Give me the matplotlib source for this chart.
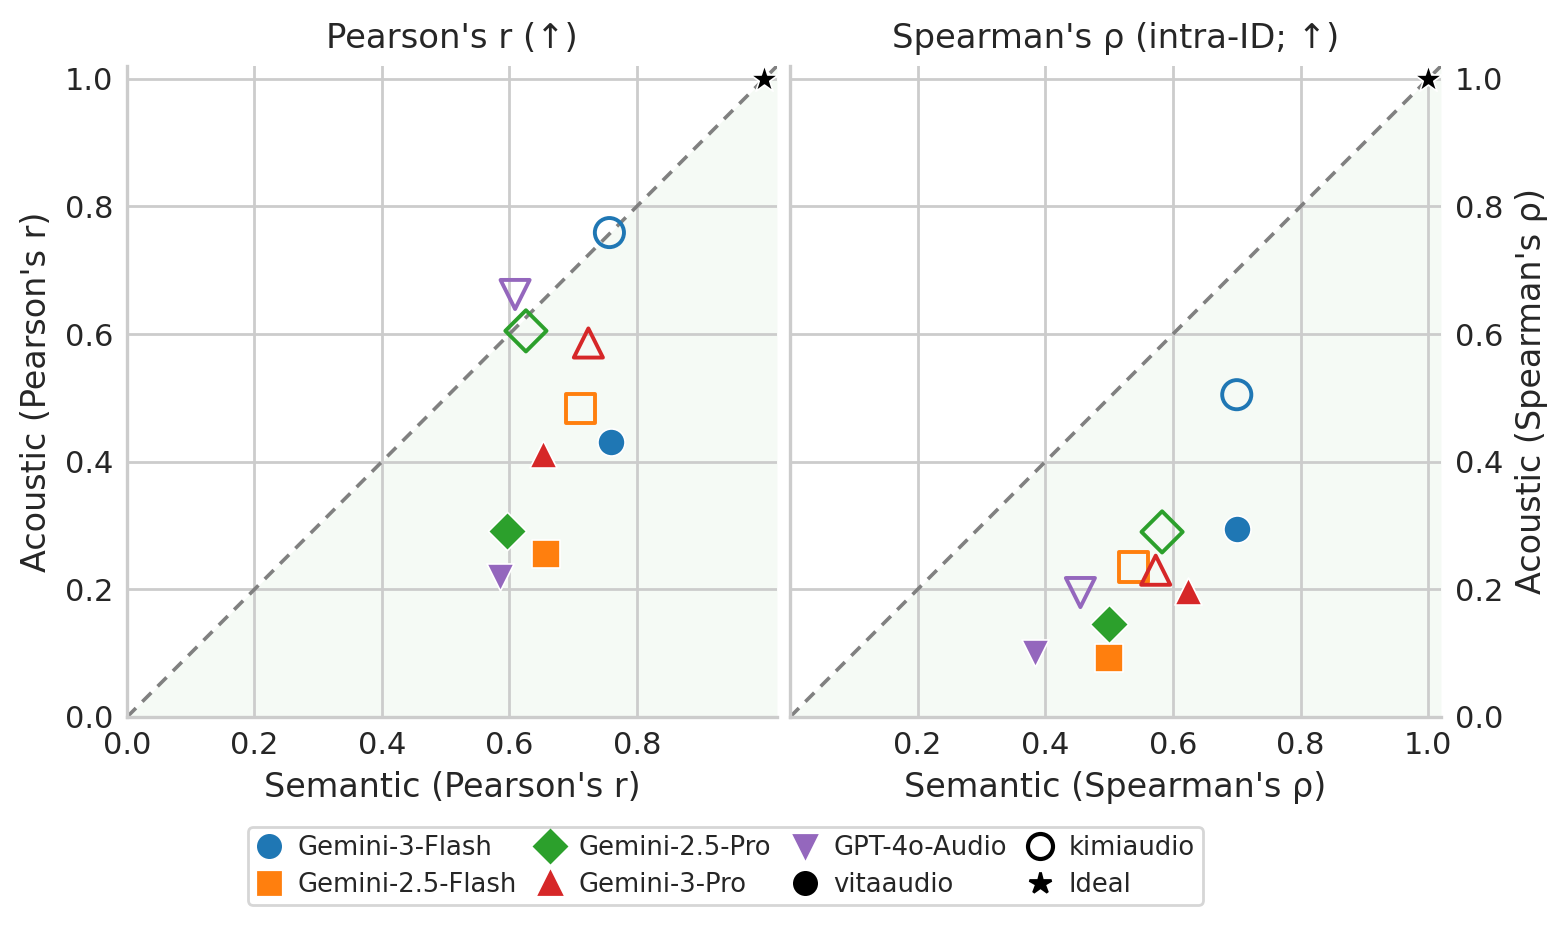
import matplotlib
matplotlib.use("Agg")
import matplotlib.pyplot as plt
from matplotlib.lines import Line2D
import numpy as np

models = ["Gemini-3-Flash", "Gemini-2.5-Flash", "Gemini-2.5-Pro", "Gemini-3-Pro", "GPT-4o-Audio"]
colors = ["#1f77b4", "#ff7f0e", "#2ca02c", "#d62728", "#9467bd"]
mkrs = ["o", "s", "D", "^", "v"]

# Pearson panel: (semantic, acoustic)
pear_vita_x = [0.760, 0.658, 0.596, 0.653, 0.586]
pear_vita_y = [0.431, 0.256, 0.292, 0.412, 0.219]
pear_kimi_x = [0.757, 0.712, 0.626, 0.724, 0.609]
pear_kimi_y = [0.759, 0.483, 0.605, 0.586, 0.662]

# Spearman panel
spear_vita_x = [0.700, 0.500, 0.500, 0.624, 0.384]
spear_vita_y = [0.294, 0.093, 0.145, 0.198, 0.100]
spear_kimi_x = [0.700, 0.538, 0.583, 0.573, 0.455]
spear_kimi_y = [0.505, 0.235, 0.290, 0.230, 0.195]

ideal = (1.0, 1.0)

TXT = "#262626"
GRID = "#cccccc"
plt.rcParams.update({
    "font.family": ["DejaVu Sans"],
    "text.color": TXT,
    "axes.labelcolor": TXT,
    "xtick.color": TXT,
    "ytick.color": TXT,
})

fig = plt.figure(figsize=(7.835, 4.635), dpi=200)
axL = fig.add_axes([127/1567, 1-717/927, 650/1567, 651/927])
axR = fig.add_axes([790/1567, 1-717/927, 651/1567, 651/927])

panels = [
    (axL, pear_vita_x, pear_vita_y, pear_kimi_x, pear_kimi_y, "Pearson's r (↑)",
     "Semantic (Pearson's r)", "Acoustic (Pearson's r)", [0.0, 0.2, 0.4, 0.6, 0.8]),
    (axR, spear_vita_x, spear_vita_y, spear_kimi_x, spear_kimi_y, "Spearman's ρ (intra-ID; ↑)",
     "Semantic (Spearman's ρ)", "Acoustic (Spearman's ρ)", [0.2, 0.4, 0.6, 0.8, 1.0]),
]

lim = 1.02
for ax, vx, vy, kx, ky, title, xl, yl, xt in panels:
    ax.set_xlim(0, lim)
    ax.set_ylim(0, lim)
    dg = np.array([0, lim])
    ax.fill_between(dg, 0, dg, color="#2ca02c", alpha=0.045, lw=0, zorder=0.5)
    ax.plot(dg, dg, ls=(0, (3.5, 2.5)), color="gray", lw=1.3, zorder=1)
    ax.grid(True, color=GRID, lw=1.0, zorder=0)
    ax.set_axisbelow(True)
    for i in range(len(models)):
        ax.scatter(vx[i], vy[i], marker=mkrs[i], s=95, color=colors[i],
                   edgecolors="white", linewidths=0.6, zorder=3)
        ax.scatter(kx[i], ky[i], marker=mkrs[i], s=110, facecolors="none",
                   edgecolors=colors[i], linewidths=1.4, zorder=3)
    ax.scatter([ideal[0]], [ideal[1]], marker="*", s=110, color="black",
               edgecolors="white", linewidths=0.6, zorder=4, clip_on=False)
    ax.set_title(title, fontsize=12.2, color=TXT, pad=6.5)
    ax.set_xlabel(xl, fontsize=12)
    ax.set_ylabel(yl, fontsize=12)
    ax.set_xticks(xt)
    ax.set_yticks([0.0, 0.2, 0.4, 0.6, 0.8, 1.0])
    ax.tick_params(length=0, labelsize=11, pad=5)
    for s in ["top", "right"]:
        ax.spines[s].set_visible(False)
    for s in ["left", "bottom"]:
        ax.spines[s].set_color(GRID)
        ax.spines[s].set_linewidth(1.2)

axR.yaxis.tick_right()
axR.yaxis.set_label_position("right")
axR.tick_params(axis="y", length=0, pad=5)

handles = []
for i in range(len(models)):
    handles.append(Line2D([], [], ls="none", marker=mkrs[i], color=colors[i],
                          markersize=8, label=models[i]))
handles.append(Line2D([], [], ls="none", marker="o", color="black", markersize=8, label="vitaaudio"))
handles.append(Line2D([], [], ls="none", marker="o", markerfacecolor="none", markeredgecolor="black",
                      markeredgewidth=1.5, markersize=9, label="kimiaudio"))
handles.append(Line2D([], [], ls="none", marker="*", color="black", markersize=8, label="Ideal"))

leg = fig.legend(handles=handles, loc="upper center", bbox_to_anchor=(725.5/1567, 1-827/927),
                 ncol=4, fontsize=9.3, frameon=True, handletextpad=0.6, columnspacing=0.8,
                 labelspacing=0.42, borderpad=0.3, handlelength=1.0, borderaxespad=0)
leg.get_frame().set_edgecolor(GRID)
leg.get_frame().set_linewidth(1.0)

fig.savefig("out.png", dpi=200)
